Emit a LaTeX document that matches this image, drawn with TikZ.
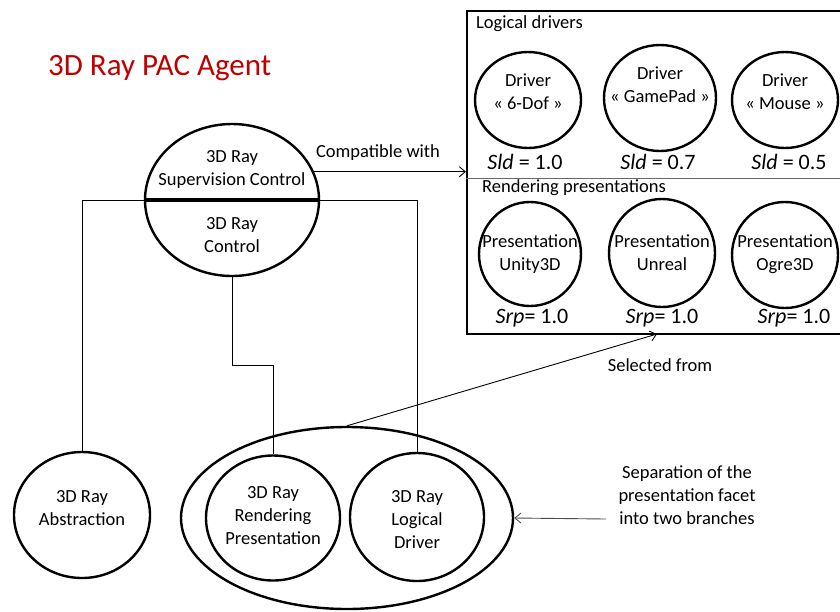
\documentclass[tikz,border=0pt]{standalone}
\usepackage{fontspec}
\setmainfont{Carlito}
\usetikzlibrary{shapes.geometric,arrows.meta}
\definecolor{titlered}{HTML}{C00000}
\tikzset{
  facet/.style={draw, ellipse, line width=2.4pt, inner sep=0pt},
  lbl/.style={font=\fontsize{18.5}{23}\selectfont, align=center, inner sep=0pt},
  score/.style={font=\fontsize{22}{26}\selectfont, inner sep=0pt},
  link/.style={line width=0.9pt},
  >={Straight Barb[length=6pt,width=10pt]}
}
\begin{document}
\begin{tikzpicture}[x=1pt,y=-1pt]
\useasboundingbox (0,0) rectangle (840,611);

\node[anchor=base west, inner sep=0pt, text=titlered, font=\fontsize{31}{37}\selectfont] (title) at (48,75) {3D Ray PAC Agent};

% supervision control / control
\node[facet, minimum width=174pt, minimum height=152pt] (sup) at (232,200) {};
\draw [line width=4pt] (sup.west) -- (sup.east);
\node[lbl] (supTxt) at (232,169) {3D Ray\\Supervision Control};
\node[lbl] (ctlTxt) at (232,235) {3D Ray\\Control};

% facets
\node[facet, minimum width=136pt, minimum height=126pt] (abs) at (82,515) {};
\node[lbl] (absTxt) at (82,508) {3D Ray\\Abstraction};
\node[facet, minimum width=332pt, minimum height=182pt] (grp) at (347,518) {};
\node[facet, minimum width=134pt, minimum height=125pt] (ren) at (273,518) {};
\node[lbl] (renTxt) at (273,516) {3D Ray\\Rendering\\Presentation};
\node[facet, minimum width=134pt, minimum height=128pt] (drv) at (417,517) {};
\node[lbl] (drvTxt) at (417,520) {3D Ray\\Logical\\Driver};

\draw [link] (sup.west) -| (abs.north);
\draw [link] (sup.east) -| (drv.north);
\draw [link] (sup.south) -- ++(0,88) -| (ren.north);

% box of drivers and presentations
\node[draw, line width=2.4pt, inner sep=0pt, anchor=north west, minimum width=384pt, minimum height=323pt] (drvbox) at (466,10) {};
\draw [black!60, line width=1pt] (466,178) -- (848,178);
\node[lbl, anchor=west] (logTxt) at (476,24) {Logical drivers};
\node[lbl, anchor=west] (rndTxt) at (482,188) {Rendering presentations};

\node[facet, minimum width=106pt, minimum height=96pt] (dof) at (528,100) {};
\node[facet, minimum width=112pt, minimum height=106pt] (gpd) at (660,98) {};
\node[facet, minimum width=106pt, minimum height=96pt] (mse) at (785,100) {};
\node[lbl] at (528,92) {Driver\\« 6-Dof »};
\node[lbl] at (660,85) {Driver\\« GamePad »};
\node[lbl] at (785,92) {Driver\\« Mouse »};
\node[score] at (525,162) {\textit{Sld} = 1.0};
\node[score] at (658,162) {\textit{Sld} = 0.7};
\node[score] at (789,162) {\textit{Sld} = 0.5};

\node[facet, minimum width=102pt, minimum height=104pt] (uni) at (530,254) {};
\node[facet, minimum width=106pt, minimum height=108pt] (unr) at (662,253) {};
\node[facet, minimum width=106pt, minimum height=106pt] (ogr) at (785,255) {};
\node[lbl] at (530,254) {Presentation\\Unity3D};
\node[lbl] at (662,253) {Presentation\\Unreal};
\node[lbl] at (785,254) {Presentation\\Ogre3D};
\node[score] at (532,318) {\textit{Srp}= 1.0};
\node[score] at (662,318) {\textit{Srp}= 1.0};
\node[score] at (794,318) {\textit{Srp}= 1.0};

% relations
\draw [link, ->] (sup.19) -- (drvbox.west |- sup.19);
\node[lbl] (compat) at (378,153) {Compatible with};
\coordinate (selEnd) at (657,334);
\draw [link, ->] (grp.north) -- (selEnd);
\node[lbl] (selTxt) at (660,365) {Selected from};
\coordinate (sepStart) at (606,519);
\draw [link, ->, black!70] (sepStart) -- (grp.east);
\node[lbl] (sepTxt) at (687,495) {Separation of the\\presentation facet\\into two branches};
\end{tikzpicture}
\end{document}
